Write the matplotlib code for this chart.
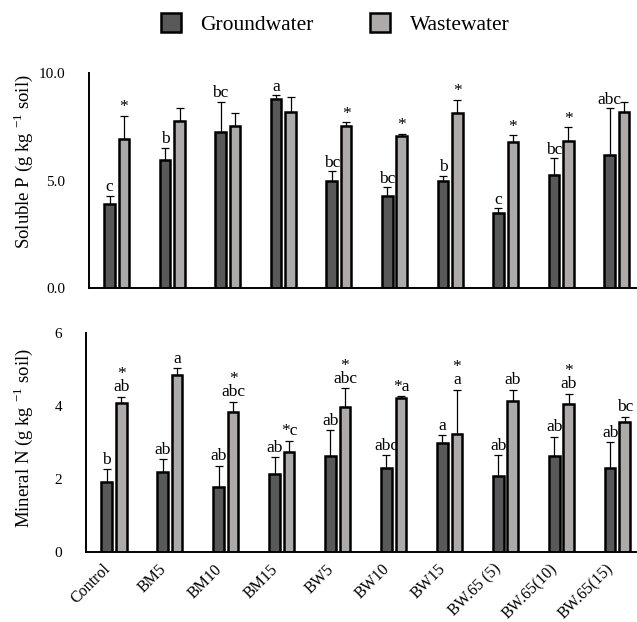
import numpy as np
import matplotlib.pyplot as plt
import matplotlib.transforms as mtransforms

plt.rcParams['font.family'] = ['Liberation Serif', 'DejaVu Serif']
plt.rcParams['mathtext.fontset'] = 'custom'
plt.rcParams['mathtext.rm'] = 'Liberation Serif'

treatments = ["Control", "BM5", "BM10", "BM15", "BW5", "BW10", "BW15",
              "BW.65 (5)", "BW.65(10)", "BW.65(15)"]

# soluble P (g/kg soil)
sp_gw = [3.9, 5.97, 7.27, 8.8, 4.96, 4.26, 4.96, 3.49, 5.24, 6.2]
sp_gw_err = [0.4, 0.56, 1.4, 0.18, 0.46, 0.44, 0.26, 0.23, 0.81, 2.17]
sp_ww = [6.93, 7.75, 7.55, 8.17, 7.52, 7.05, 8.14, 6.77, 6.82, 8.19]
sp_ww_err = [1.08, 0.62, 0.6, 0.7, 0.18, 0.13, 0.62, 0.35, 0.65, 0.44]
sp_gw_lab = ["c", "b", "bc", "a", "bc", "bc", "b", "c", "bc", "abc"]
sp_ww_lab = ["*", "", "", "", "*", "*", "*", "*", "*", ""]

# mineral N (g/kg soil)
mn_gw = [1.91, 2.18, 1.76, 2.13, 2.62, 2.3, 2.97, 2.08, 2.63, 2.3]
mn_gw_err = [0.35, 0.35, 0.59, 0.45, 0.71, 0.34, 0.21, 0.56, 0.51, 0.69]
mn_ww = [4.08, 4.84, 3.82, 2.74, 3.95, 4.2, 3.21, 4.13, 4.03, 3.54]
mn_ww_err = [0.16, 0.18, 0.29, 0.3, 0.52, 0.06, 1.22, 0.3, 0.29, 0.15]
mn_gw_lab = ["b", "ab", "ab", "ab", "ab", "abc", "a", "ab", "ab", "ab"]
mn_ww_lab = ["*\nab", "a", "*\nabc", "*c", "*\nabc", "*a", "*\na", "ab", "*\nab", "bc"]

GW_COL = "#595959"
WW_COL = "#aeaaaa"
W = 0.19
OFF = 0.13

fig = plt.figure(figsize=(6.37, 6.22), dpi=100)
ax1 = fig.add_axes([0.1397, 0.537, 0.859, 0.3456])
ax2 = fig.add_axes([0.135, 0.1133, 0.865, 0.3521])

x = np.arange(len(treatments))


def panel(ax, gw, gw_err, ww, ww_err, gw_lab, ww_lab, pad):
    kw = dict(width=W, edgecolor="black", linewidth=1.8, zorder=2)
    ekw = dict(ecolor="black", elinewidth=0.9, capsize=3, capthick=0.9)
    b1 = ax.bar(x - OFF, gw, color=GW_COL, label="Groundwater", **kw)
    b2 = ax.bar(x + OFF, ww, color=WW_COL, label="Wastewater", **kw)
    ax.errorbar(x - OFF, gw, yerr=[np.zeros(len(gw)), gw_err], fmt="none",
                zorder=1, **ekw)
    ax.errorbar(x + OFF, ww, yerr=[np.zeros(len(ww)), ww_err], fmt="none",
                zorder=1, **ekw)
    for i in range(len(x)):
        ax.text(x[i] - OFF, gw[i] + gw_err[i] + pad, gw_lab[i],
                ha="center", va="bottom", fontsize=12.5, linespacing=0.75)
        if ww_lab[i]:
            ax.text(x[i] + OFF, ww[i] + ww_err[i] + pad, ww_lab[i],
                    ha="center", va="bottom", fontsize=12.5, linespacing=0.75)
    ax.set_xlim(-0.5, 9.35)
    for s in ["top", "right"]:
        ax.spines[s].set_visible(False)
    for s in ["left", "bottom"]:
        ax.spines[s].set_linewidth(1.4)
    ax.tick_params(length=0, labelsize=11)
    ax.tick_params(axis="y", pad=17)
    return b1, b2


b1, b2 = panel(ax1, sp_gw, sp_gw_err, sp_ww, sp_ww_err, sp_gw_lab, sp_ww_lab, 0.02)
ax1.set_ylim(0, 10)
ax1.set_yticks([0, 5, 10])
ax1.set_yticklabels(["0.0", "5.0", "10.0"])
ax1.set_xticks(x)
ax1.set_xticklabels([])
ax1.set_ylabel(r"Soluble P (g kg $^{\mathregular{-1}}$ soil)", fontsize=13.5)
ax1.yaxis.set_label_coords(-0.098, 0.59)

panel(ax2, mn_gw, mn_gw_err, mn_ww, mn_ww_err, mn_gw_lab, mn_ww_lab, 0.04)
ax2.set_ylim(0, 6)
ax2.set_yticks([0, 2, 4, 6])
ax2.set_xticks(x)
ax2.set_xticklabels(treatments, rotation=45, ha="right",
                    rotation_mode="anchor", fontsize=11.5)
ax2.tick_params(axis="x", pad=7)
# nudge category names to the left of the group centre
shift = mtransforms.ScaledTranslation(-12 / 100, 0, fig.dpi_scale_trans)
for lbl in ax2.get_xticklabels():
    lbl.set_transform(lbl.get_transform() + shift)
ax2.set_ylabel(r"Mineral N (g kg $^{\mathregular{-1}}$ soil)", fontsize=13.5)
ax2.yaxis.set_label_coords(-0.093, 0.52)

fig.legend(handles=[b1, b2], loc="center", bbox_to_anchor=(0.526, 0.961),
           ncol=2, frameon=False, fontsize=15.5, handlelength=0.95,
           handleheight=0.95, handletextpad=0.9, columnspacing=2.6)

fig.savefig("out.png", dpi=100)
